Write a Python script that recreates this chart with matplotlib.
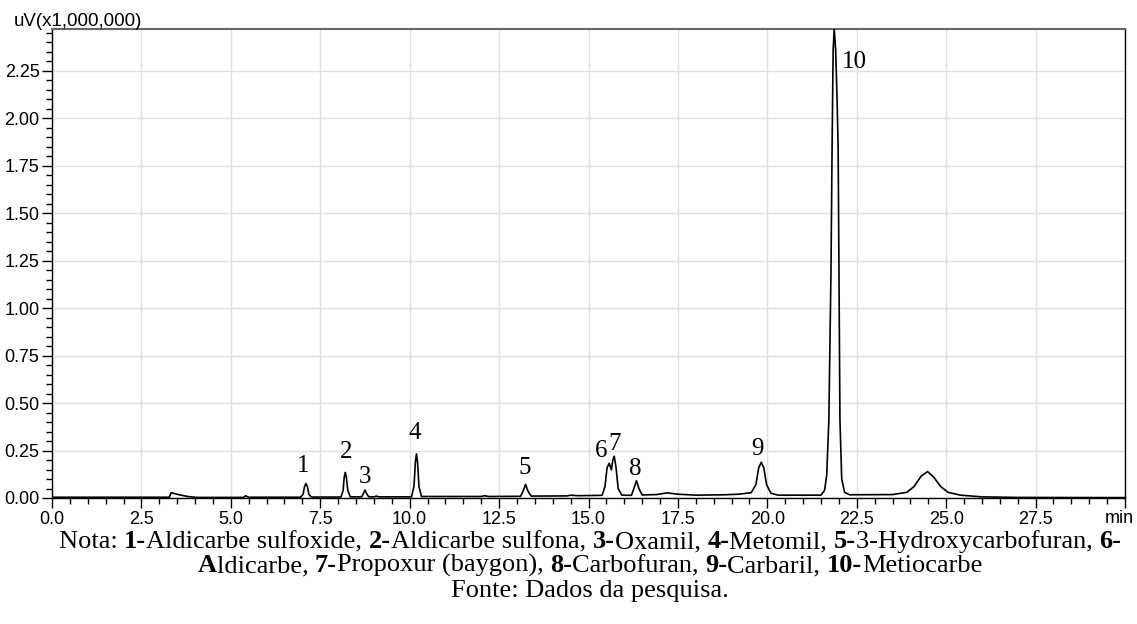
import matplotlib
matplotlib.use("Agg")
import matplotlib.pyplot as plt
from matplotlib.ticker import MultipleLocator, FuncFormatter

# chromatogram trace (min, uV x 1e6)
trace_time = [
    0.0, 3.28, 3.33, 3.45, 3.6, 3.8, 4.05, 5.35, 5.42, 5.48,
    6.95, 7.02, 7.06, 7.10, 7.14, 7.18, 7.25,
    8.08, 8.14, 8.17, 8.20, 8.23, 8.27, 8.34,
    8.66, 8.71, 8.75, 8.79, 8.85, 9.0, 9.07, 9.14,
    10.05, 10.12, 10.16, 10.19, 10.22, 10.26, 10.33,
    12.0, 12.1, 12.2, 13.1, 13.17, 13.24, 13.31, 13.4,
    14.4, 14.5, 14.7, 15.0, 15.38, 15.46, 15.52, 15.58, 15.64, 15.68, 15.72, 15.77, 15.83, 15.93,
    16.2, 16.27, 16.34, 16.41, 16.5, 16.9, 17.2, 17.5, 18.0, 18.8, 19.2,
    19.55, 19.68, 19.76, 19.83, 19.9, 19.98, 20.1, 20.3,
    21.5, 21.6, 21.66, 21.72, 21.78, 21.81, 21.84, 21.87, 21.91, 21.95, 21.98, 22.03, 22.08, 22.16, 22.3,
    23.5, 23.9, 24.1, 24.3, 24.48, 24.65, 24.85, 25.05, 25.4, 26.0, 27.0, 30.0,
]
trace_signal = [
    0.004, 0.004, 0.028, 0.022, 0.015, 0.008, 0.003, 0.003, 0.012, 0.004,
    0.004, 0.02, 0.06, 0.077, 0.06, 0.02, 0.005,
    0.005, 0.04, 0.11, 0.135, 0.11, 0.04, 0.006,
    0.006, 0.025, 0.042, 0.025, 0.007, 0.006, 0.01, 0.006,
    0.006, 0.06, 0.19, 0.232, 0.19, 0.06, 0.008,
    0.008, 0.012, 0.008, 0.009, 0.035, 0.072, 0.035, 0.01,
    0.011, 0.015, 0.012, 0.013, 0.014, 0.06, 0.16, 0.183, 0.148, 0.2, 0.22, 0.16, 0.05, 0.015,
    0.014, 0.05, 0.091, 0.05, 0.016, 0.018, 0.027, 0.02, 0.015, 0.017, 0.02,
    0.028, 0.07, 0.16, 0.188, 0.16, 0.07, 0.025, 0.015,
    0.015, 0.04, 0.12, 0.41, 1.2, 1.84, 2.36, 2.47, 2.36, 2.1, 1.84, 0.41, 0.1, 0.03, 0.017,
    0.018, 0.03, 0.06, 0.115, 0.139, 0.11, 0.06, 0.03, 0.015, 0.006, 0.003, 0.002,
]

# peak numbers and where they sit (label centre x, label baseline y)
peak_labels = ["1", "2", "3", "4", "5", "6", "7", "8", "9"]
peak_label_x = [7.01, 8.22, 8.75, 10.14, 13.21, 15.36, 15.74, 16.32, 19.73]
peak_label_y = [0.139, 0.209, 0.081, 0.31, 0.127, 0.218, 0.253, 0.121, 0.227]
main_label = "10"
main_label_x = 22.07
main_label_y = 2.267

caption_lines = [
    [("Nota: ", False), ("1-", True), ("Aldicarbe sulfoxide, ", False), ("2-", True),
     ("Aldicarbe sulfona, ", False), ("3-", True), ("Oxamil, ", False), ("4-", True),
     ("Metomil, ", False), ("5-", True), ("3-Hydroxycarbofuran, ", False), ("6-", True)],
    [("A", True), ("ldicarbe, ", False), ("7-", True), ("Propoxur (baygon), ", False),
     ("8-", True), ("Carbofuran, ", False), ("9-", True), ("Carbaril, ", False),
     ("10-", True), ("Metiocarbe", False)],
    [("Fonte: Dados da pesquisa.", False)],
]

SANS = "Liberation Sans"
SERIF = "Liberation Serif"

fig = plt.figure(figsize=(11.37, 6.24), dpi=100)
ax = fig.add_axes([52 / 1137, 126 / 624, 1073 / 1137, 469 / 624])

ax.plot(trace_time, trace_signal, color="black", lw=1.2, zorder=3)

ax.set_xlim(0, 30)
ax.set_ylim(0, 2.47)
ax.xaxis.set_major_locator(MultipleLocator(2.5))
ax.xaxis.set_minor_locator(MultipleLocator(0.5))
ax.yaxis.set_major_locator(MultipleLocator(0.25))
ax.yaxis.set_minor_locator(MultipleLocator(0.05))
ax.xaxis.set_major_formatter(FuncFormatter(lambda v, p: "" if v >= 29.99 else f"{v:.1f}"))
ax.yaxis.set_major_formatter(FuncFormatter(lambda v, p: f"{v:.2f}"))
ax.tick_params(which="major", direction="out", length=7, width=1, labelsize=13, pad=2)
ax.tick_params(which="minor", direction="out", length=4, width=1)
for lab in ax.get_xticklabels() + ax.get_yticklabels():
    lab.set_fontfamily(SANS)

ax.grid(True, which="major", color="#e0e0e0", lw=1, zorder=0)
ax.set_axisbelow(True)
for side in ["left", "right", "bottom"]:
    ax.spines[side].set_color("black")
    ax.spines[side].set_linewidth(1)
ax.spines["top"].set_color("#666666")
ax.spines["top"].set_linewidth(1.5)

for lbl, x, y in zip(peak_labels, peak_label_x, peak_label_y):
    ax.text(x, y, lbl, ha="center", va="baseline", fontsize=18, family=SERIF, zorder=4)
ax.text(main_label_x, main_label_y, main_label, ha="left", va="baseline",
        fontsize=18, family=SERIF, zorder=4)

fig.text(14 / 1137, (624 - 26) / 624, "uV(x1,000,000)", ha="left", va="baseline",
         fontsize=13.5, family=SANS)
# unit label under the last x tick, kept inside the picture
fig.text(1134 / 1137, (624 - 523) / 624, "min", ha="right", va="baseline",
         fontsize=13, family=SANS)

# caption with bold numbers: place pieces one after another, centred on the line
renderer = fig.canvas.get_renderer()
line_y = [(624 - 548) / 624, (624 - 572) / 624, (624 - 597) / 624]
centre_px = 590
for segs, y in zip(caption_lines, line_y):
    texts = []
    widths = []
    for s, bold in segs:
        t = fig.text(0, y, s, ha="left", va="baseline", fontsize=19, family=SERIF,
                     fontweight="bold" if bold else "normal")
        widths.append(t.get_window_extent(renderer).width)
        texts.append(t)
    x0 = centre_px - sum(widths) / 2
    for t, w in zip(texts, widths):
        t.set_x(x0 / 1137)
        x0 += w

fig.savefig("out.png", dpi=100)
